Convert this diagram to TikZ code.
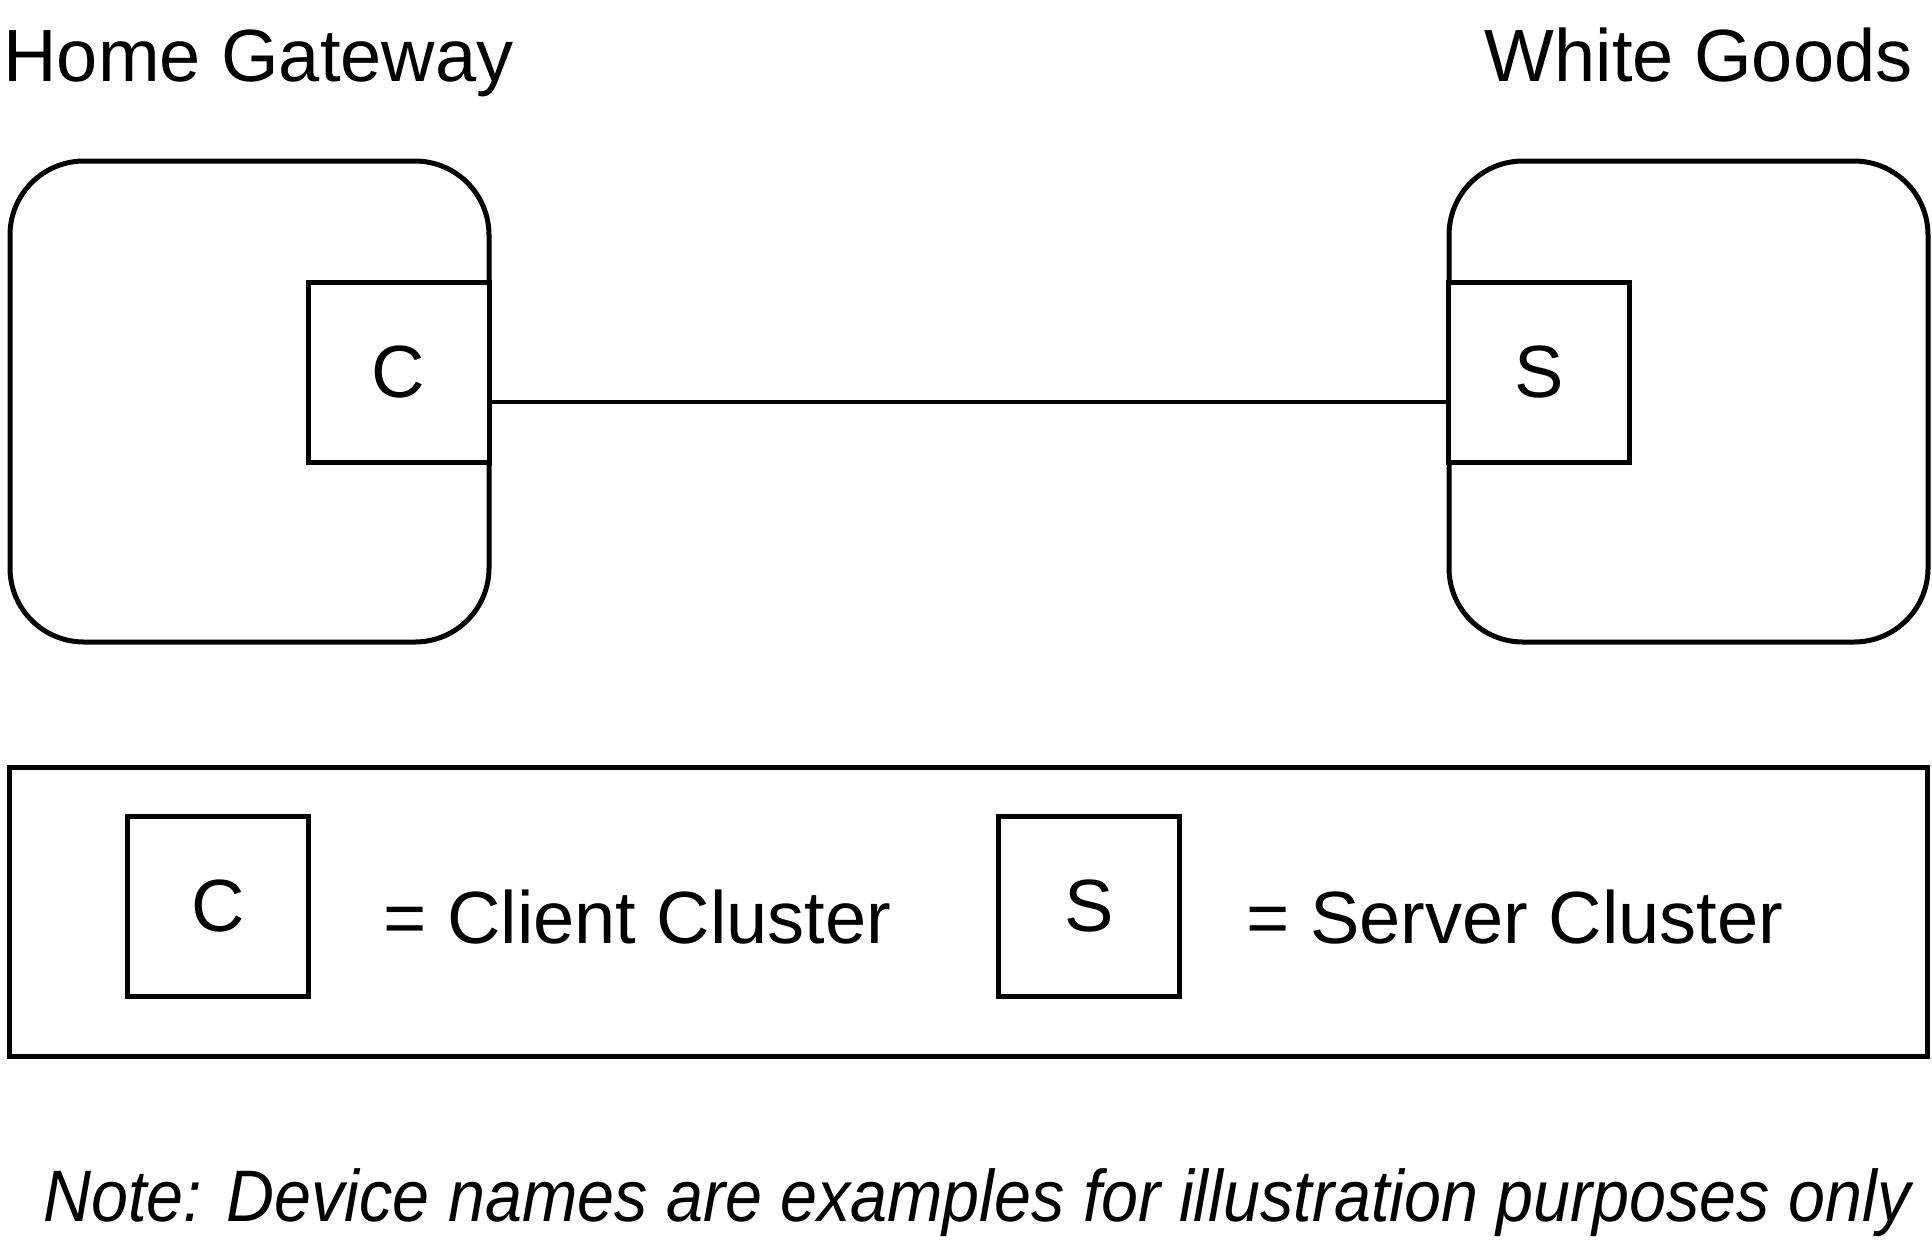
\documentclass[tikz,border=0pt]{standalone}
\usepackage{fontspec}
\setmainfont{Liberation Sans}
\newfontfamily\notefont{Liberation Sans}[FakeStretch=0.91]
\begin{document}
\begin{tikzpicture}[x=0.5pt, y=-0.5pt, line width=2.5pt,
    every node/.style={font=\fontsize{37}{44}\selectfont, inner sep=0pt},
    device/.style={draw, rounded corners=37pt, minimum width=239.5pt, minimum height=240.5pt},
    cluster/.style={draw, fill=white, minimum width=90.5pt, minimum height=90pt}]
    \useasboundingbox (0,0) rectangle (1932,1239);
    % devices
    \node[device] (gw) at (249.5,401.5) {};
    \node[device] (wg) at (1688.5,401.5) {};
    \node[anchor=base west] (gwname) at (1,81) {Home Gateway};
    \node[anchor=base east] (wgname) at (1915,81) {White Goods};
    \node[cluster] (cl) at (398.5,372) {C};
    \node[cluster] (sv) at (1539,372) {S};
    \draw[line width=2pt] ([yshift=-15pt]cl.east) -- ([yshift=-15pt]sv.west);
    % key
    \node[draw, minimum width=959pt, minimum height=144.5pt] (key) at (968.5,911.5) {};
    \node[cluster] (clkey) at (218,906.5) {C};
    \node[cluster] (svkey) at (1089,906.5) {S};
    \node[anchor=base west] (cltext) at (381,943) {= Client Cluster};
    \node[anchor=base west] (svtext) at (1244,943) {= Server Cluster};
    \node[anchor=base, font=\fontsize{36.5}{44}\notefont\itshape] (note) at (977,1221)
      {Note: Device names are examples for illustration purposes only};
\end{tikzpicture}
\end{document}
